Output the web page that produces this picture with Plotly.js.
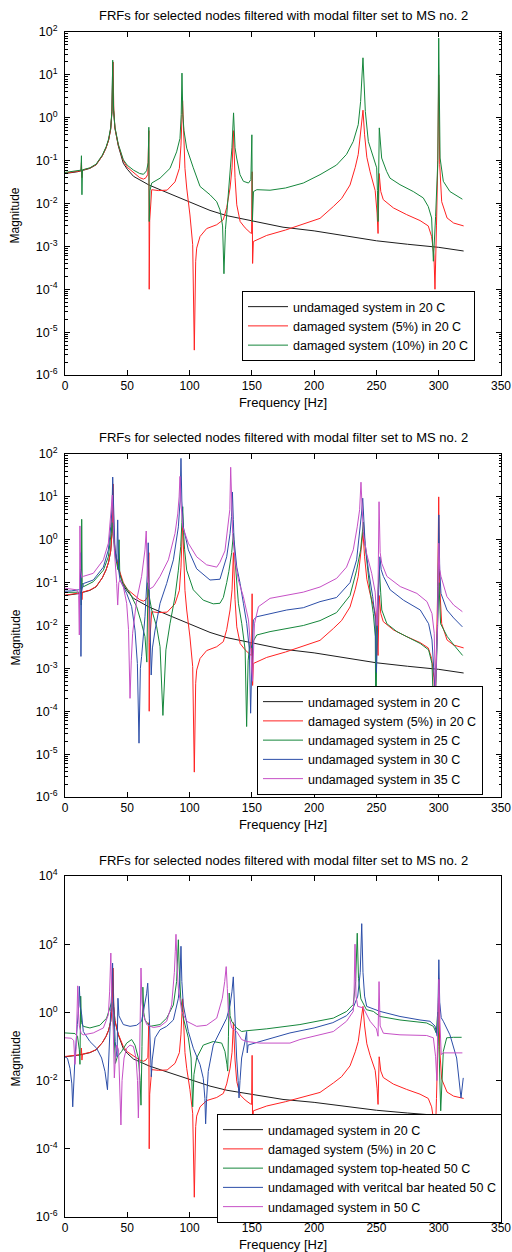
<!DOCTYPE html>
<html><head><meta charset="utf-8">
<script src="https://cdn.plot.ly/plotly-3.0.1.min.js"></script>
<style>body{margin:0;background:#fff}#chart{width:512px;height:1252px}</style>
</head><body><div id="chart"></div>
<script>
// ---------- DATA (frequency [Hz], magnitude) ----------
const black20C = [[0,0.050],[5,0.052],[10,0.055],[15,0.060],[20,0.066],[25,0.080],[30,0.13],[33,0.20],[35,0.30],[36.7,0.55],[37.7,1.4],[38.3,20],[39,1.5],[40.1,0.57],[42.8,0.22],[46.8,0.087],[50,0.063],[55,0.043],[63,0.032],[67.4,0.027],[76.3,0.021],[89.6,0.0145],[103,0.0098],[116.4,0.0069],[130,0.0052],[150,0.0039],[175,0.0028],[200,0.0023],[225,0.00175],[250,0.00135],[275,0.00112],[300,0.00095],[320,0.00078]];

const damaged5 = [[0,0.051],[5,0.053],[10,0.056],[12.8,0.058],[13.2,0.09],[13.6,0.04],[14,0.06],[20,0.067],[25,0.081],[30,0.13],[33,0.2],[35,0.3],[36.7,0.55],[37.7,1.4],[38.5,20],[39.2,1.5],[40.1,0.57],[42.8,0.23],[46.8,0.1],[50,0.07],[55,0.052],[60,0.04],[63,0.037],[65,0.04],[66.5,0.048],[67.3,0.5],[67.6,1.0e-4],[68,0.004],[69.6,0.021],[75,0.02],[82,0.0205],[88.3,0.032],[91.8,0.066],[93.1,0.23],[94.4,2.5],[95.5,0.2],[96.3,0.066],[97.7,0.023],[100.3,0.0054],[102.5,0.0011],[103.8,3.8e-6],[104.9,4.5e-4],[105.7,9.1e-4],[108.4,0.0017],[113.7,0.0026],[121.8,0.0032],[127.1,0.0042],[129.8,0.008],[132.5,0.023],[134.1,0.068],[135.2,0.5],[136.5,0.04],[137.9,0.0093],[140.6,0.0038],[144.6,0.0027],[148.6,0.0021],[149.8,0.002],[150.2,0.055],[150.6,4.0e-4],[151.2,0.0013],[161.9,0.0018],[176.9,0.0024],[190.2,0.0033],[204.7,0.0045],[215.4,0.0085],[222,0.013],[228.8,0.027],[233,0.07],[235.4,0.14],[237.5,0.45],[239.2,1.5],[240.5,0.4],[242.3,0.12],[244.9,0.055],[249,0.02],[250.5,0.006],[251.3,0.002],[252.2,0.05],[253.5,0.019],[255.5,0.0123],[263.6,0.0079],[274.3,0.0055],[285,0.004],[291.6,0.003],[294.3,0.0017],[296.2,6.0e-4],[297,1.0e-4],[298.2,0.003],[299.2,0.08],[300,10],[300.8,0.08],[302.4,0.011],[306.7,0.0046],[312,0.0035],[320,0.003]];

const damaged10 = [[0,0.053],[5,0.055],[10,0.058],[12.8,0.06],[13.2,0.13],[13.6,0.016],[14,0.061],[20,0.068],[25,0.083],[30,0.135],[33,0.21],[35,0.32],[36.7,0.6],[37.7,1.5],[38.3,22],[39,1.6],[40.1,0.6],[42.8,0.24],[46.8,0.105],[50,0.078],[55,0.06],[60,0.05],[63,0.048],[65.5,0.058],[66.8,0.09],[67.3,0.6],[67.6,0.0038],[68.2,0.02],[69.6,0.03],[76.3,0.039],[84.3,0.066],[89.6,0.16],[92.3,0.33],[93.3,1.2],[93.9,11],[94.6,1.2],[95.5,0.5],[97.7,0.195],[103,0.068],[108.4,0.025],[116.4,0.016],[121.8,0.011],[124.4,0.0071],[126.5,0.003],[127.6,2.3e-4],[128.8,0.0025],[129.8,0.0054],[132.5,0.055],[134,0.2],[135.3,1.3],[136.5,0.2],[137.8,0.115],[140.5,0.047],[143.2,0.033],[147.3,0.03],[149.2,0.036],[150,0.4],[150.4,0.0037],[151.3,0.019],[154,0.021],[164.6,0.0204],[177,0.023],[191.3,0.03],[204.7,0.047],[218,0.079],[226,0.14],[231.4,0.28],[235.4,0.69],[237.3,2.4],[239.2,25],[240.2,3.0],[241.1,1.4],[243.5,0.28],[247.5,0.115],[250.2,0.068],[250.8,0.02],[251.3,0.0038],[252.3,0.58],[253.2,0.2],[254.2,0.115],[258.2,0.056],[260.9,0.039],[268.9,0.0275],[279.6,0.019],[287.6,0.0135],[291.6,0.0085],[294.3,0.0046],[295.7,4.5e-4],[297.5,0.005],[299.3,0.1],[300,72],[300.7,0.3],[301.1,0.115],[303.7,0.033],[309,0.019],[319,0.0126]];

const undamaged25 = [[0,0.059],[5,0.059],[10,0.059],[12.8,0.06],[13.1,0.03],[13.4,3.0],[13.8,0.1],[14.7,0.08],[22.7,0.105],[30.8,0.195],[34.8,0.4],[36.7,1.17],[38,2.5],[39,1.0],[40.5,0.4],[42.5,0.2],[43.4,1.0],[44,0.15],[46.8,0.095],[52.2,0.056],[57.5,0.0275],[61.5,0.011],[64.2,0.0055],[65.7,0.0014],[66.6,0.1],[67.5,0.05],[69.6,0.023],[73.6,0.0093],[76.3,0.0032],[78.6,8.0e-5],[81,0.0027],[84.3,0.011],[88.3,0.047],[91,0.195],[92.9,0.69],[93.8,2.5],[94.5,5.9],[95.2,1.5],[96,0.6],[97.7,0.195],[103,0.068],[111,0.039],[119,0.032],[124.4,0.033],[127.1,0.045],[129.8,0.1],[131.5,0.18],[133.8,0.5],[135.2,1.4],[136.5,0.34],[139.2,0.033],[141.9,0.011],[144.6,0.0027],[145.8,4.4e-5],[147,0.0015],[148.5,0.004],[150,0.003],[151.5,0.0045],[153.9,0.006],[164.6,0.0072],[178,0.0085],[191.3,0.01],[204.7,0.013],[218,0.02],[228.8,0.05],[234.1,0.195],[237.3,0.58],[239.5,2.6],[240.8,0.8],[242.1,0.34],[244.8,0.068],[247.5,0.019],[249.1,0.0055],[249.6,1.0e-5],[250.3,0.01],[251.3,0.068],[252.4,0.2],[253.4,0.06],[254.3,0.023],[258.4,0.011],[266.4,0.0072],[277.1,0.005],[285.2,0.0038],[291.9,0.0027],[294.6,0.0013],[296.5,3.0e-5],[298.5,0.003],[300.2,0.1],[301.5,0.011],[306.9,0.0055],[312.2,0.0035],[319.2,0.002]];

const undamaged30 = [[0,0.063],[5,0.064],[10.7,0.068],[12.3,0.07],[12.6,0.5],[12.8,0.0019],[13.2,0.06],[14.7,0.095],[22.7,0.115],[30.8,0.23],[34.8,0.58],[36.7,2.0],[37.7,5.0],[38.3,29],[39,3.0],[40.1,0.58],[41.5,0.3],[42.3,2.9],[43,0.2],[44.2,0.115],[49.5,0.056],[53.5,0.0275],[56.2,0.0078],[58.1,0.0013],[59.4,1.8e-5],[60.5,0.001],[61.5,0.0019],[64.2,0.016],[66,0.15],[66.8,0.85],[67.5,0.1],[68.2,0.0055],[69.2,7.0e-4],[70.2,0.003],[72.3,0.0078],[76.3,0.033],[81.6,0.095],[87,0.34],[91,2.0],[92.4,8.0],[93.1,79],[93.8,8.0],[95,2.0],[99,0.58],[105.7,0.21],[116.4,0.115],[124.4,0.12],[129.8,0.4],[132.5,1.4],[133.7,3.5],[134.4,13],[135.1,3.0],[135.7,1.0],[137.9,0.23],[140.6,0.095],[143.2,0.033],[145.9,0.011],[148,0.0027],[149,9.0e-5],[150,0.0015],[151.2,0.0135],[153.9,0.016],[164.6,0.019],[178,0.023],[191.3,0.026],[204.7,0.036],[218,0.045],[228.8,0.1],[234.1,0.34],[236.8,1.7],[238,4.0],[239,9.3],[240,3.0],[240.9,0.83],[243.6,0.195],[247,0.047],[248.9,0.016],[250,8.0e-4],[251.2,0.02],[252.8,0.4],[253.8,0.2],[255.6,0.14],[261,0.068],[271.7,0.039],[285.2,0.023],[291.9,0.011],[294.6,0.0046],[297.2,2.6e-4],[299,0.01],[300.1,3.8],[300.8,0.2],[301.8,0.056],[306.6,0.023],[312,0.015],[319,0.0093]];

const undamaged35 = [[0,0.074],[5,0.072],[9.4,0.068],[11,0.05],[11.5,0.006],[12,2.1],[12.5,0.2],[13.5,0.13],[14.7,0.14],[22.7,0.165],[30.8,0.34],[34.8,0.83],[36.7,3.5],[38,11],[38.8,2.0],[39.6,0.58],[41.5,0.095],[42.3,0.03],[43.2,0.1],[44.2,0.115],[46.8,0.081],[49.5,0.033],[51,0.008],[52.2,2.0e-4],[53.2,0.0015],[54.3,0.0066],[57.5,0.039],[61.5,0.14],[64.2,0.58],[65.2,1.6],[66.2,0.15],[67.5,0.07],[70.9,0.08],[76.3,0.14],[83,0.34],[88.3,1.4],[90.5,4.0],[91.6,10],[92.3,30],[93,8.0],[94.5,2.0],[99,0.83],[105.7,0.4],[113.7,0.26],[121.8,0.23],[124.4,0.3],[128.4,0.55],[130.5,1.6],[132.3,5.0],[133,49],[133.7,5.0],[134.6,1.4],[136.5,0.34],[139.2,0.115],[143.2,0.047],[147.3,0.0135],[149.1,0.0027],[150.5,5.0e-4],[152.1,0.011],[155.3,0.0275],[164.6,0.043],[178,0.051],[191.3,0.06],[204.7,0.079],[218.1,0.126],[226,0.23],[231.4,0.58],[234.6,2.0],[236.5,5.0],[237.6,22],[238.6,5.0],[239.5,1.4],[242.1,0.48],[246.2,0.165],[249,0.06],[250.5,0.01],[251.3,0.08],[252.1,7.7],[253,0.5],[254.3,0.28],[258.4,0.14],[269.1,0.081],[282.5,0.056],[290.6,0.036],[294.6,0.019],[296.4,0.0066],[297.4,3.0e-4],[299,0.01],[300.1,0.83],[300.8,0.2],[301.8,0.14],[306.6,0.047],[312,0.03],[319,0.021]];

const topHeated50 = [[0,0.25],[5,0.25],[8,0.24],[10,0.2],[11.5,0.08],[12,0.03],[12.6,3.0],[13.2,0.5],[14.7,0.39],[20,0.35],[28,0.42],[33.4,0.68],[36,1.35],[37.5,2.0],[38.5,1.0],[39.5,0.15],[40.5,0.032],[42,0.05],[45.5,0.072],[49.5,0.126],[53.5,0.16],[56.2,0.11],[58.9,0.046],[60.3,0.01],[61,0.0019],[61.8,0.1],[62.5,5.5],[63.2,1.0],[64.2,0.6],[68.2,0.39],[76.3,0.44],[81.6,0.68],[87,1.65],[89.6,8.1],[90.4,30],[91,135],[91.7,20],[92.9,2.6],[95,0.68],[99,0.18],[101.2,0.046],[102,0.01],[102.5,0.0017],[103.5,0.015],[105.7,0.046],[111,0.11],[119,0.14],[125.8,0.126],[128.4,0.072],[130,0.03],[130.6,0.019],[131.2,0.2],[131.8,3.7],[132.5,0.8],[133.8,0.55],[137.8,0.35],[141.8,0.275],[146,0.29],[162,0.33],[188.6,0.44],[215.4,0.68],[226.1,1.07],[231.4,1.7],[233.3,8.0],[234.6,210],[235.6,10],[237.5,2.5],[242,1.2],[247.5,1.07],[252.9,0.76],[260,0.68],[268.9,0.6],[290.3,0.49],[295.7,0.39],[298,0.25],[299.2,1.0],[300.2,0.1],[301.6,0.0013],[303.7,0.072],[306.4,0.18],[311.7,0.186],[318.4,0.186]];

const verticalBar50 = [[0,0.05],[2,0.045],[4,0.023],[5.5,0.008],[6.2,0.0017],[7,0.01],[8,0.046],[9.9,0.44],[11,1.5],[11.5,5.8],[12.2,1.5],[13.4,0.85],[14.7,0.275],[20,0.14],[25.4,0.089],[29.4,0.046],[32.1,0.0186],[34.1,0.0054],[35,0.05],[35.6,0.18],[36.7,1.07],[37.6,5.0],[38.2,28],[38.8,3.0],[39.3,0.68],[40.3,0.14],[40.9,0.089],[41.8,0.05],[42.5,2.6],[43.3,0.8],[44.2,0.68],[46.8,0.44],[52.2,0.39],[57.5,0.42],[61.5,0.55],[64.2,1.65],[65.5,3.5],[66.4,7.2],[67.2,2.0],[67.7,0.68],[68.8,0.046],[69.3,0.013],[70,0.04],[72.3,0.18],[76.3,0.31],[81.6,0.39],[87,0.6],[91,2.6],[92.3,10],[93.1,87],[93.8,8.0],[95,1.65],[99,0.275],[103,0.089],[108.4,0.0295],[111,0.0117],[112.3,0.003],[112.9,5.4e-4],[113.7,0.003],[115,0.0186],[119,0.11],[124.4,0.275],[129.8,0.68],[132.5,1.65],[134,4.0],[135.1,11],[135.8,2.0],[136.5,0.275],[137.8,0.046],[139,0.01],[139.7,0.0031],[140.5,0.01],[141.8,0.046],[144.5,0.14],[145.8,0.275],[146.3,0.065],[147,0.11],[156.5,0.14],[180.6,0.25],[200,0.35],[215,0.5],[226,0.8],[231,1.26],[235,3.0],[237,15],[238.2,400],[239.2,15],[240.5,3.0],[242.2,1.5],[252.9,1.07],[268.9,0.76],[285,0.6],[293,0.55],[297,0.4],[298.8,0.2],[299.5,2.0],[300.1,35],[300.8,2.0],[302,0.7],[303.7,0.55],[309,0.22],[314.4,0.046],[317,0.0048],[317.9,0.0031],[319.7,0.012]];

const undamaged50 = [[0,0.18],[5,0.175],[7,0.15],[8,0.03],[9,0.1],[9.8,1.5],[10.2,6.0],[10.8,1.0],[11.5,0.4],[13,0.24],[14.7,0.22],[22.7,0.25],[30.8,0.35],[34.8,0.85],[35.8,4.0],[36.8,55],[37.7,1.65],[38.8,0.275],[39.6,0.012],[40.5,0.05],[41.5,0.11],[43,0.08],[44,0.01],[44.9,5.0e-4],[45.8,0.01],[47.4,0.046],[49.5,0.089],[52.2,0.11],[54.9,0.1],[57,0.046],[58.2,0.01],[58.9,8.0e-4],[59.6,0.01],[60.2,0.18],[61,20],[61.8,2.0],[62.9,0.85],[65.6,0.44],[70.9,0.36],[76.3,0.39],[81.6,0.55],[85.6,1.65],[87.8,15],[88.5,60],[89.1,195],[89.8,30],[91,5.1],[93.7,1.07],[97.7,0.55],[105.7,0.39],[113.7,0.42],[121.8,0.68],[126.3,2.6],[128.2,8.0],[129.4,22],[130.3,5.0],[131.1,1.07],[133.8,0.35],[137.8,0.275],[141.8,0.16],[145.8,0.14],[156.5,0.126],[180.6,0.126],[188.6,0.16],[215.4,0.275],[226,0.55],[231.4,1.07],[232,3.0],[232.8,100],[233.6,3.0],[235,1.5],[239.5,1.35],[244.9,0.55],[250,0.33],[251.3,0.2],[252.1,8.0],[253,0.4],[255.6,0.245],[268.9,0.22],[290.3,0.21],[295.7,0.18],[297.5,0.05],[298.5,0.01],[299.5,1.0],[300.2,9.3],[301,0.5],[302,0.058],[303.7,0.065],[319,0.065]];

const chartTitle = 'FRFs for selected nodes filtered with modal filter set to MS no. 2';
const xTitle = 'Frequency [Hz]';
const yTitle = 'Magnitude';

// ---------- LAYOUT HELPERS ----------
const W = 512, H = 1252;
const FONT = 'Liberation Sans, Arial, Helvetica, sans-serif';
const X0 = 65, X1 = 501;
const panels = [
  {top: 32,  bot: 375,  title: 16,  exps: [-6,-5,-4,-3,-2,-1,0,1,2], minor: true,  lg: {l:242, b:361}},
  {top: 454, bot: 797,  title: 438, exps: [-6,-5,-4,-3,-2,-1,0,1,2], minor: true,  lg: {l:257, b:795}},
  {top: 876, bot: 1217, title: 860, exps: [-6,-4,-2,0,2,4],           minor: false, lg: {l:217, b:1223}}
];
const COL = {black:'#1c1c1c', red:'#ff2222', green:'#16873c', blue:'#2c4ea8', mag:'#c650c6'};

function tr(data, name, color, k) {
  const s = k === 0 ? '' : String(k + 1);
  return {
    x: data.map(p => p[0]), y: data.map(p => p[1]),
    type: 'scatter', mode: 'lines', name: name,
    line: {color: color, width: 1},
    xaxis: 'x' + s, yaxis: 'y' + s,
    legend: 'legend' + s, hoverinfo: 'skip'
  };
}

const traces = [
  tr(black20C, 'undamaged system in 20 C', COL.black, 0),
  tr(damaged5, 'damaged system (5%) in 20 C', COL.red, 0),
  tr(damaged10, 'damaged system (10%) in 20 C', COL.green, 0),

  tr(black20C, 'undamaged system in 20 C', COL.black, 1),
  tr(damaged5, 'damaged system (5%) in 20 C', COL.red, 1),
  tr(undamaged25, 'undamaged system in 25 C', COL.green, 1),
  tr(undamaged30, 'undamaged system in 30 C', COL.blue, 1),
  tr(undamaged35, 'undamaged system in 35 C', COL.mag, 1),

  tr(black20C, 'undamaged system in 20 C', COL.black, 2),
  tr(damaged5, 'damaged system (5%) in 20 C', COL.red, 2),
  tr(topHeated50, 'undamaged system top-heated 50 C', COL.green, 2),
  tr(verticalBar50, 'undamaged with veritcal bar heated 50 C', COL.blue, 2),
  tr(undamaged50, 'undamaged system in 50 C', COL.mag, 2)
];

const layout = {
  width: W, height: H, margin: {l:0, r:0, t:0, b:0},
  paper_bgcolor: '#fff', plot_bgcolor: '#fff',
  font: {family: FONT, color: '#000', size: 12},
  showlegend: true, annotations: []
};

panels.forEach((p, k) => {
  const s = k === 0 ? '' : String(k + 1);
  const ydom = [1 - p.bot / H, 1 - p.top / H];
  layout['xaxis' + s] = {
    domain: [X0 / W, X1 / W], anchor: 'y' + s, range: [0, 350],
    tickmode: 'linear', tick0: 0, dtick: 50,
    ticks: 'inside', ticklen: 5, tickcolor: '#000',
    showline: true, linecolor: '#000', linewidth: 1, mirror: 'ticks',
    showgrid: false, zeroline: false,
    tickfont: {size: 12, family: FONT},
    title: {text: xTitle, font: {size: 13, family: FONT}, standoff: 5}
  };
  const minorVals = [];
  for (let e = -6; e < 2; e++) for (let m = 2; m <= 9; m++) minorVals.push(m * Math.pow(10, e));
  const ya = {
    domain: ydom, anchor: 'x' + s, type: 'log',
    range: [p.exps[0], p.exps[p.exps.length - 1]],
    tickmode: 'array',
    tickvals: p.exps.map(e => Math.pow(10, e)),
    ticktext: p.exps.map(e => '10<sup>' + (e < 0 ? '-' : '') + Math.abs(e) + '</sup>'),
    ticks: 'inside', ticklen: 5, tickcolor: '#000',
    showline: true, linecolor: '#000', linewidth: 1, mirror: 'ticks',
    showgrid: false, zeroline: false,
    tickfont: {size: 12.5, family: FONT},
    ticklabelstandoff: 4
  };
  if (p.minor) ya.minor = {tickmode: 'array', tickvals: minorVals, ticks: 'inside', ticklen: 2.5, tickcolor: '#000', showgrid: false};
  layout['yaxis' + s] = ya;

  layout['legend' + s] = {
    x: p.lg.l / W, y: 1 - p.lg.b / H, xanchor: 'left', yanchor: 'bottom',
    bgcolor: '#fff', bordercolor: '#000', borderwidth: 1,
    font: {size: 12.5, family: FONT, color: '#000'},
    itemwidth: 40, tracegroupgap: 0, itemclick: false
  };

  layout.annotations.push({
    text: chartTitle, xref: 'paper', yref: 'paper',
    x: 283 / W, y: 1 - p.title / H, xanchor: 'center', yanchor: 'middle',
    showarrow: false, font: {size: 13, family: FONT, color: '#000'}
  });
  layout.annotations.push({
    text: yTitle, xref: 'paper', yref: 'paper', textangle: -90,
    x: 15 / W, y: 1 - ((p.top + p.bot) / 2 + 12) / H, xanchor: 'center', yanchor: 'middle',
    showarrow: false, font: {size: 12, family: FONT, color: '#000'}
  });
});

Plotly.newPlot('chart', traces, layout, {staticPlot: true, displayModeBar: false});
</script>
</body></html>
